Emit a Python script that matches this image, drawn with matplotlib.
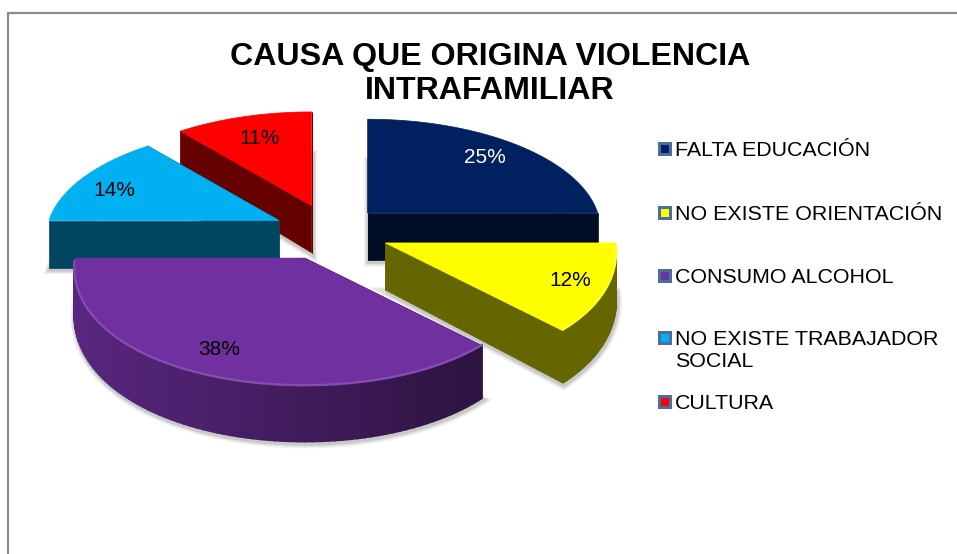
import numpy as np
import matplotlib
matplotlib.use('Agg')
import matplotlib.pyplot as plt
from matplotlib.patches import Polygon, Rectangle

plt.rcParams['font.family'] = ['Liberation Sans', 'DejaVu Sans']

title = 'CAUSA QUE ORIGINA VIOLENCIA\nINTRAFAMILIAR'
categories = ['FALTA EDUCACIÓN', 'NO EXISTE ORIENTACIÓN', 'CONSUMO ALCOHOL',
              'NO EXISTE TRABAJADOR\nSOCIAL', 'CULTURA']
values = [25, 12, 38, 14, 11]
colors = ['#002060', '#FFFF00', '#7030A0', '#00B0F0', '#FF0000']
label_colors = ['white', 'black', 'black', 'black', 'black']
legend_y = [149, 213, 276, 338, 402]

# draw back slices first so the front ones cover them
draw_order = [0, 4, 3, 1, 2]

# pie layout, in pixels
CX, CY = 329, 232
RX, RY = 230, 108
RY_FRONT = 128
PERSP = 0.153
EXPLODE = 0.25
DEPTH = 47
LABEL_R = 0.81
nudge = [(-2, 0), (3, 1), (-3, 1), (2, 0), (2, -1)]
label_nudge = [(-2, -2), (6, -3), (-12, -7), (-6, 3), (3, 3)]


def project(theta):
    u, v = np.cos(theta), np.sin(theta)
    w = 1 + PERSP * v
    # the near half of the pie is drawn a bit bigger than the far half
    x = np.where(v < 0, RX * u / np.sqrt(w), RX * u / w)
    y = np.where(v < 0, -RY_FRONT * v, -RY * v / w)
    return x, y


def depth(theta):
    return DEPTH / (1 + PERSP * np.sin(theta))


def shade(color, f):
    return tuple(c * f for c in matplotlib.colors.to_rgb(color))


def lighten(color, f):
    rgb = np.array(matplotlib.colors.to_rgb(color))
    return tuple(rgb + (1 - rgb) * f)


fig = plt.figure(figsize=(9.57, 5.54), dpi=100)
ax = fig.add_axes([0, 0, 1, 1])
ax.set_xlim(0, 957)
ax.set_ylim(554, 0)
ax.axis('off')

# chart border, only top and left show up in the crop
ax.plot([8, 8, 957], [554, 13, 13], color='#8c8c8c', lw=1.6, solid_joinstyle='miter')

fractions = np.array(values) / sum(values)
ends = np.pi / 2 - 2 * np.pi * np.cumsum(fractions)
starts = ends + 2 * np.pi * fractions

for n, i in enumerate(draw_order):
    color = colors[i]
    mid = (starts[i] + ends[i]) / 2
    ax_x = CX + EXPLODE * RX * np.cos(mid) + nudge[i][0]
    ax_y = CY - EXPLODE * RY * np.sin(mid) + nudge[i][1]

    thetas = np.linspace(starts[i], ends[i], 80)
    px, py = project(thetas)
    arc_x, arc_y = ax_x + px, ax_y + py
    arc_d = depth(thetas)

    outline_x = np.concatenate([[ax_x], arc_x])
    outline_y = np.concatenate([[ax_y], arc_y])
    outline_d = np.concatenate([[DEPTH], arc_d])
    top = np.column_stack([outline_x, outline_y])

    # soft shadow round the bottom of the slice
    for lw, alpha in [(7, 0.05), (5, 0.07), (3, 0.1)]:
        ax.add_patch(Polygon(np.column_stack([outline_x + 1, outline_y + outline_d + 2]),
                             closed=True, fc='none', ec='black', lw=lw, alpha=alpha,
                             zorder=2 + n * 0.1))

    z = 2.01 + n * 0.1
    wall = shade(color, 0.4)

    # outer wall, only the part that faces the viewer, darker to the right
    for k in range(len(thetas) - 1):
        if np.sin(thetas[k]) > -0.02:
            continue
        f = np.clip(0.8 - 0.4 * (arc_x[k] - 70) / 416, 0.4, 0.8)
        seg = shade(color, f)
        ax.add_patch(Polygon([(arc_x[k], arc_y[k]), (arc_x[k + 1], arc_y[k + 1]),
                              (arc_x[k + 1], arc_y[k + 1] + arc_d[k + 1]), (arc_x[k], arc_y[k] + arc_d[k])],
                             closed=True, fc=seg, ec=seg, lw=1.2, zorder=z))

    # radial walls
    for e in [0, -1]:
        ax.add_patch(Polygon([(ax_x, ax_y), (arc_x[e], arc_y[e]),
                              (arc_x[e], arc_y[e] + arc_d[e]), (ax_x, ax_y + DEPTH)],
                             closed=True, fc=wall, ec=wall, lw=0.5, zorder=z - 0.001))

    ax.add_patch(Polygon(top, closed=True, fc=color, ec=color, lw=0.5, zorder=z + 0.01))

    # bevel highlight on the front of the rim
    front = arc_y > ax_y + 2
    if front.any():
        ax.plot(arc_x[front], arc_y[front] - 1, color=lighten(color, 0.15), lw=1.5,
                zorder=z + 0.02, solid_capstyle='round')

    lx, ly = project(mid)
    ax.text(ax_x + LABEL_R * lx + label_nudge[i][0], ax_y + LABEL_R * ly + 2 + label_nudge[i][1],
            '%d%%' % values[i], color=label_colors[i], fontsize=15, ha='center', va='center', zorder=5)

ax.text(490, 74, title, fontsize=23.1, fontweight='bold', ha='center', va='center',
        linespacing=1.15, color='black')

# legend
for name, color, y in zip(categories, colors, legend_y):
    ax.add_patch(Rectangle((657.5, y - 7), 14, 14, fc='#4a6f9f', ec='none'))
    ax.add_patch(Rectangle((660.5, y - 4), 8, 8, fc=color, ec='none'))
    ax.text(675, y - 8, name, fontsize=15.4, ha='left', va='top', linespacing=1.2)

fig.savefig('out.png', dpi=100)
